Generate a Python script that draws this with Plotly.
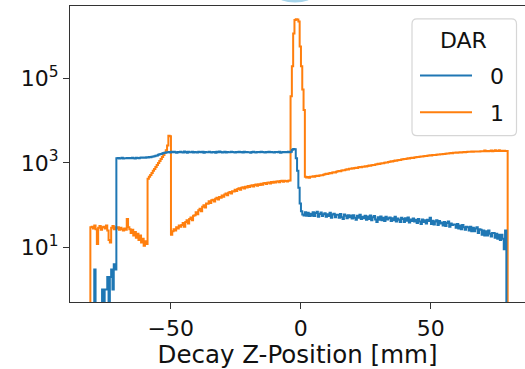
import numpy as np
import plotly.graph_objects as go

# Histogram binning of the decay z-position (mm)
hist_lo = -80.9
bin_width = 0.5

# Counts per bin, DAR = 0
dar0_counts = [
    0, 0, 0, 3, 0, 0, 0, 0, 0, 1,
    0, 1, 1, 2, 0, 2, 3, 1, 4, 3,
    1290, 1310, 1280, 1300, 1320, 1270, 1300, 1290, 1310, 1300,
    1310, 1290, 1320, 1300, 1280, 1330, 1310, 1300, 1320, 1340,
    1330, 1350, 1320, 1360, 1340, 1380, 1370, 1400, 1420, 1450,
    1480, 1510, 1560, 1600, 1640, 1680, 1720, 1750, 1770, 1790,
    1810, 1760, 1830, 1790, 1850, 1800, 1740, 1820, 1790, 1840,
    1800, 1770, 1860, 1810, 1750, 1830, 1800, 1790, 1840, 1780,
    1820, 1800, 1760, 1850, 1810, 1790, 1830, 1740, 1810, 1800,
    1790, 1840, 1800, 1770, 1820, 1810, 1750, 1830, 1800, 1860,
    1810, 1780, 1800, 1830, 1760, 1820, 1800, 1790, 1850, 1810,
    1800, 1770, 1820, 1800, 1840, 1790, 1810, 1760, 1830, 1800,
    1820, 1790, 1800, 1750, 1810, 1830, 1800, 1780, 1820, 1810,
    1790, 1850, 1810, 1800, 1760, 1820, 1800, 1840, 1790, 1810,
    1800, 1760, 1820, 1810, 1790, 1830, 1750, 1800, 1820, 1790,
    1810, 1790, 1830, 1800, 1850, 2050, 2150, 2100, 1300, 650,
    260, 110, 72, 60, 57, 68, 56, 66, 55, 63,
    56, 68, 55, 65, 70, 53, 62, 67, 55, 61,
    64, 53, 61, 55, 66, 50, 60, 63, 52, 59,
    59, 50, 62, 52, 47, 60, 56, 49, 58, 52,
    57, 48, 58, 50, 45, 56, 50, 59, 47, 53,
    49, 56, 45, 54, 47, 57, 44, 52, 55, 46,
    40, 52, 45, 54, 44, 50, 42, 53, 46, 49,
    51, 42, 49, 44, 53, 41, 48, 45, 40, 50,
    47, 40, 49, 43, 51, 39, 46, 42, 48, 41,
    45, 38, 47, 41, 36, 46, 40, 44, 37, 45,
    42, 50, 36, 43, 35, 41, 44, 34, 42, 37,
    39, 33, 40, 32, 38, 41, 31, 37, 34, 35,
    35, 29, 36, 28, 33, 27, 34, 30, 26, 31,
    30, 25, 31, 24, 29, 24, 28, 30, 22, 27,
    26, 20, 25, 19, 24, 19, 25, 21, 18, 22,
    22, 17, 21, 16, 20, 15, 20, 16, 9, 25,
    0,
]

# Counts per bin, DAR = 1
dar1_counts = [
    30, 31, 28, 33, 27, 12, 29, 32, 26, 30,
    31, 28, 33, 25, 15, 13, 29, 32, 27, 30,
    28, 30, 26, 29, 27, 25, 28, 26, 47, 30,
    27, 22, 26, 19, 23, 17, 21, 15, 19, 13,
    16, 11, 14, 12, 420, 470, 520, 580, 650, 720,
    800, 900, 1000, 1110, 1240, 1380, 1540, 1750, 2000, 2600,
    4400, 4300, 20, 24, 27, 25, 30, 28, 33, 31,
    34, 38, 31, 40, 44, 37, 47, 51, 44, 56,
    58, 68, 61, 76, 82, 72, 92, 99, 88, 110,
    108, 124, 113, 130, 135, 122, 142, 150, 136, 156,
    150, 170, 158, 178, 188, 172, 196, 206, 188, 214,
    210, 232, 216, 242, 250, 232, 258, 266, 248, 272,
    262, 284, 268, 290, 296, 278, 302, 310, 290, 314,
    302, 322, 306, 330, 336, 316, 340, 346, 326, 352,
    338, 358, 342, 364, 370, 350, 372, 378, 358, 380,
    372, 366, 378, 384, 38000, 195000, 1170000, 2450000, 2550000, 2500000,
    2250000, 575000, 195000, 55000, 18000, 470, 455, 462, 448, 470,
    474, 482, 470, 490, 498, 492, 506, 514, 508, 526,
    538, 552, 546, 566, 578, 570, 592, 604, 598, 622,
    632, 648, 640, 664, 676, 668, 694, 706, 698, 724,
    730, 746, 738, 760, 772, 764, 786, 798, 790, 812,
    818, 836, 828, 852, 866, 858, 884, 898, 890, 920,
    930, 952, 942, 972, 988, 980, 1010, 1030, 1020, 1060,
    1070, 1096, 1084, 1118, 1136, 1126, 1160, 1178, 1168, 1210,
    1220, 1246, 1234, 1266, 1284, 1274, 1306, 1322, 1312, 1350,
    1366, 1390, 1378, 1410, 1428, 1418, 1446, 1462, 1452, 1484,
    1494, 1520, 1506, 1536, 1550, 1542, 1570, 1586, 1576, 1604,
    1612, 1640, 1626, 1660, 1676, 1668, 1700, 1712, 1702, 1736,
    1744, 1768, 1756, 1780, 1792, 1774, 1800, 1812, 1796, 1826,
    1830, 1852, 1838, 1860, 1848, 1866, 1856, 1874, 1860, 1880,
    1884, 1900, 1890, 1960, 1896, 1906, 1894, 1912, 1980, 1904,
    1910, 1990, 1916, 1930, 2010, 1924, 1936, 1928, 1940, 1932,
    1930,
]

dar_levels = ["0", "1"]
dar_colors = {"0": "#1f77b4", "1": "#ff7f0e"}

x_tick_vals = [-50, 0, 50]
x_tick_text = ["\u221250", "0", "50"]
y_tick_vals = [1e1, 1e3, 1e5]
y_tick_text = ["10<sup>1</sup>", "10<sup>3</sup>", "10<sup>5</sup>"]

edges = hist_lo + bin_width * np.arange(len(dar0_counts) + 1)
floor = 1e-3  # empty bins drop below the visible log range


def step_xy(counts):
    c = np.asarray(counts, dtype=float)
    c = np.where(c > 0, c, floor)
    xs = np.concatenate([[edges[0]], edges[:-1], [edges[-1]]])
    ys = np.concatenate([[floor], c, [floor]])
    return xs, ys


FONT = "DejaVu Sans"
W, H = 525, 369
ML, MR, MT, MB = 70, 0, 6, 65
PW, PH = W - ML - MR, H - MT - MB


def px(x):
    return (x - ML) / PW


def py(y):
    return (H - MB - y) / PH


fig = go.Figure()

# later hue level first so DAR 0 sits on top
for level, counts in (("1", dar1_counts), ("0", dar0_counts)):
    xs, ys = step_xy(counts)
    fig.add_trace(go.Scatter(
        x=xs, y=ys, mode="lines", line_shape="hv",
        line=dict(color=dar_colors[level], width=2),
        name=level, showlegend=False, hoverinfo="skip",
    ))

# legend box with rounded corners
x0, x1, y0, y1 = 412, 516.5, 19, 136.5
r = 5
path = (
    f"M {px(x0 + r)},{py(y0)} L {px(x1 - r)},{py(y0)} "
    f"Q {px(x1)},{py(y0)} {px(x1)},{py(y0 + r)} "
    f"L {px(x1)},{py(y1 - r)} Q {px(x1)},{py(y1)} {px(x1 - r)},{py(y1)} "
    f"L {px(x0 + r)},{py(y1)} Q {px(x0)},{py(y1)} {px(x0)},{py(y1 - r)} "
    f"L {px(x0)},{py(y0 + r)} Q {px(x0)},{py(y0)} {px(x0 + r)},{py(y0)} Z"
)
shapes = [
    dict(type="path", path=path, xref="paper", yref="paper",
         fillcolor="rgba(255,255,255,0.8)", line=dict(color="#d6d6d6", width=1.2)),
    # light blue sliver at the top edge
    dict(type="circle", xref="paper", yref="paper",
         x0=px(277), x1=px(313), y0=py(2.5), y1=py(-12),
         fillcolor="#a6d4ea", line=dict(width=0)),
]
annotations = [
    dict(text="DAR", x=px(463.5), y=py(40.5), xref="paper", yref="paper",
         showarrow=False, xanchor="center", yanchor="middle",
         font=dict(family=FONT, size=22, color="#111")),
]
for k, level in enumerate(dar_levels):
    yy = [76, 113][k]
    shapes.append(dict(type="line", xref="paper", yref="paper",
                       x0=px(420), x1=px(472), y0=py(yy), y1=py(yy),
                       line=dict(color=dar_colors[level], width=2)))
    annotations.append(dict(text=level, x=px(497), y=py(yy + 1), xref="paper", yref="paper",
                            showarrow=False, xanchor="center", yanchor="middle",
                            font=dict(family=FONT, size=22, color="#111")))

axis_line = "#333333"
fig.update_layout(
    width=W, height=H,
    margin=dict(l=ML, r=MR, t=MT, b=MB, pad=0),
    paper_bgcolor="white", plot_bgcolor="white",
    showlegend=False,
    font=dict(family=FONT, size=22, color="#111"),
    shapes=shapes, annotations=annotations,
    xaxis=dict(
        range=[-88.73, 86.27], showgrid=False, zeroline=False,
        showline=True, linecolor=axis_line, linewidth=1.3, mirror=True,
        ticks="outside", ticklen=6, tickwidth=1.3, tickcolor=axis_line,
        tickvals=x_tick_vals, ticktext=x_tick_text,
        tickfont=dict(family=FONT, size=22, color="#111"),
        title=dict(text="Decay Z-Position [mm]", standoff=11,
                   font=dict(family=FONT, size=24.5, color="#111")),
    ),
    yaxis=dict(
        type="log", range=[-0.294, 6.718], showgrid=False, zeroline=False,
        showline=True, linecolor=axis_line, linewidth=1.3,
        ticks="outside", ticklen=6, tickwidth=1.3, tickcolor=axis_line,
        tickvals=y_tick_vals, ticktext=y_tick_text,
        tickfont=dict(family=FONT, size=22, color="#111"),
    ),
)

fig.write_html("out.html")
